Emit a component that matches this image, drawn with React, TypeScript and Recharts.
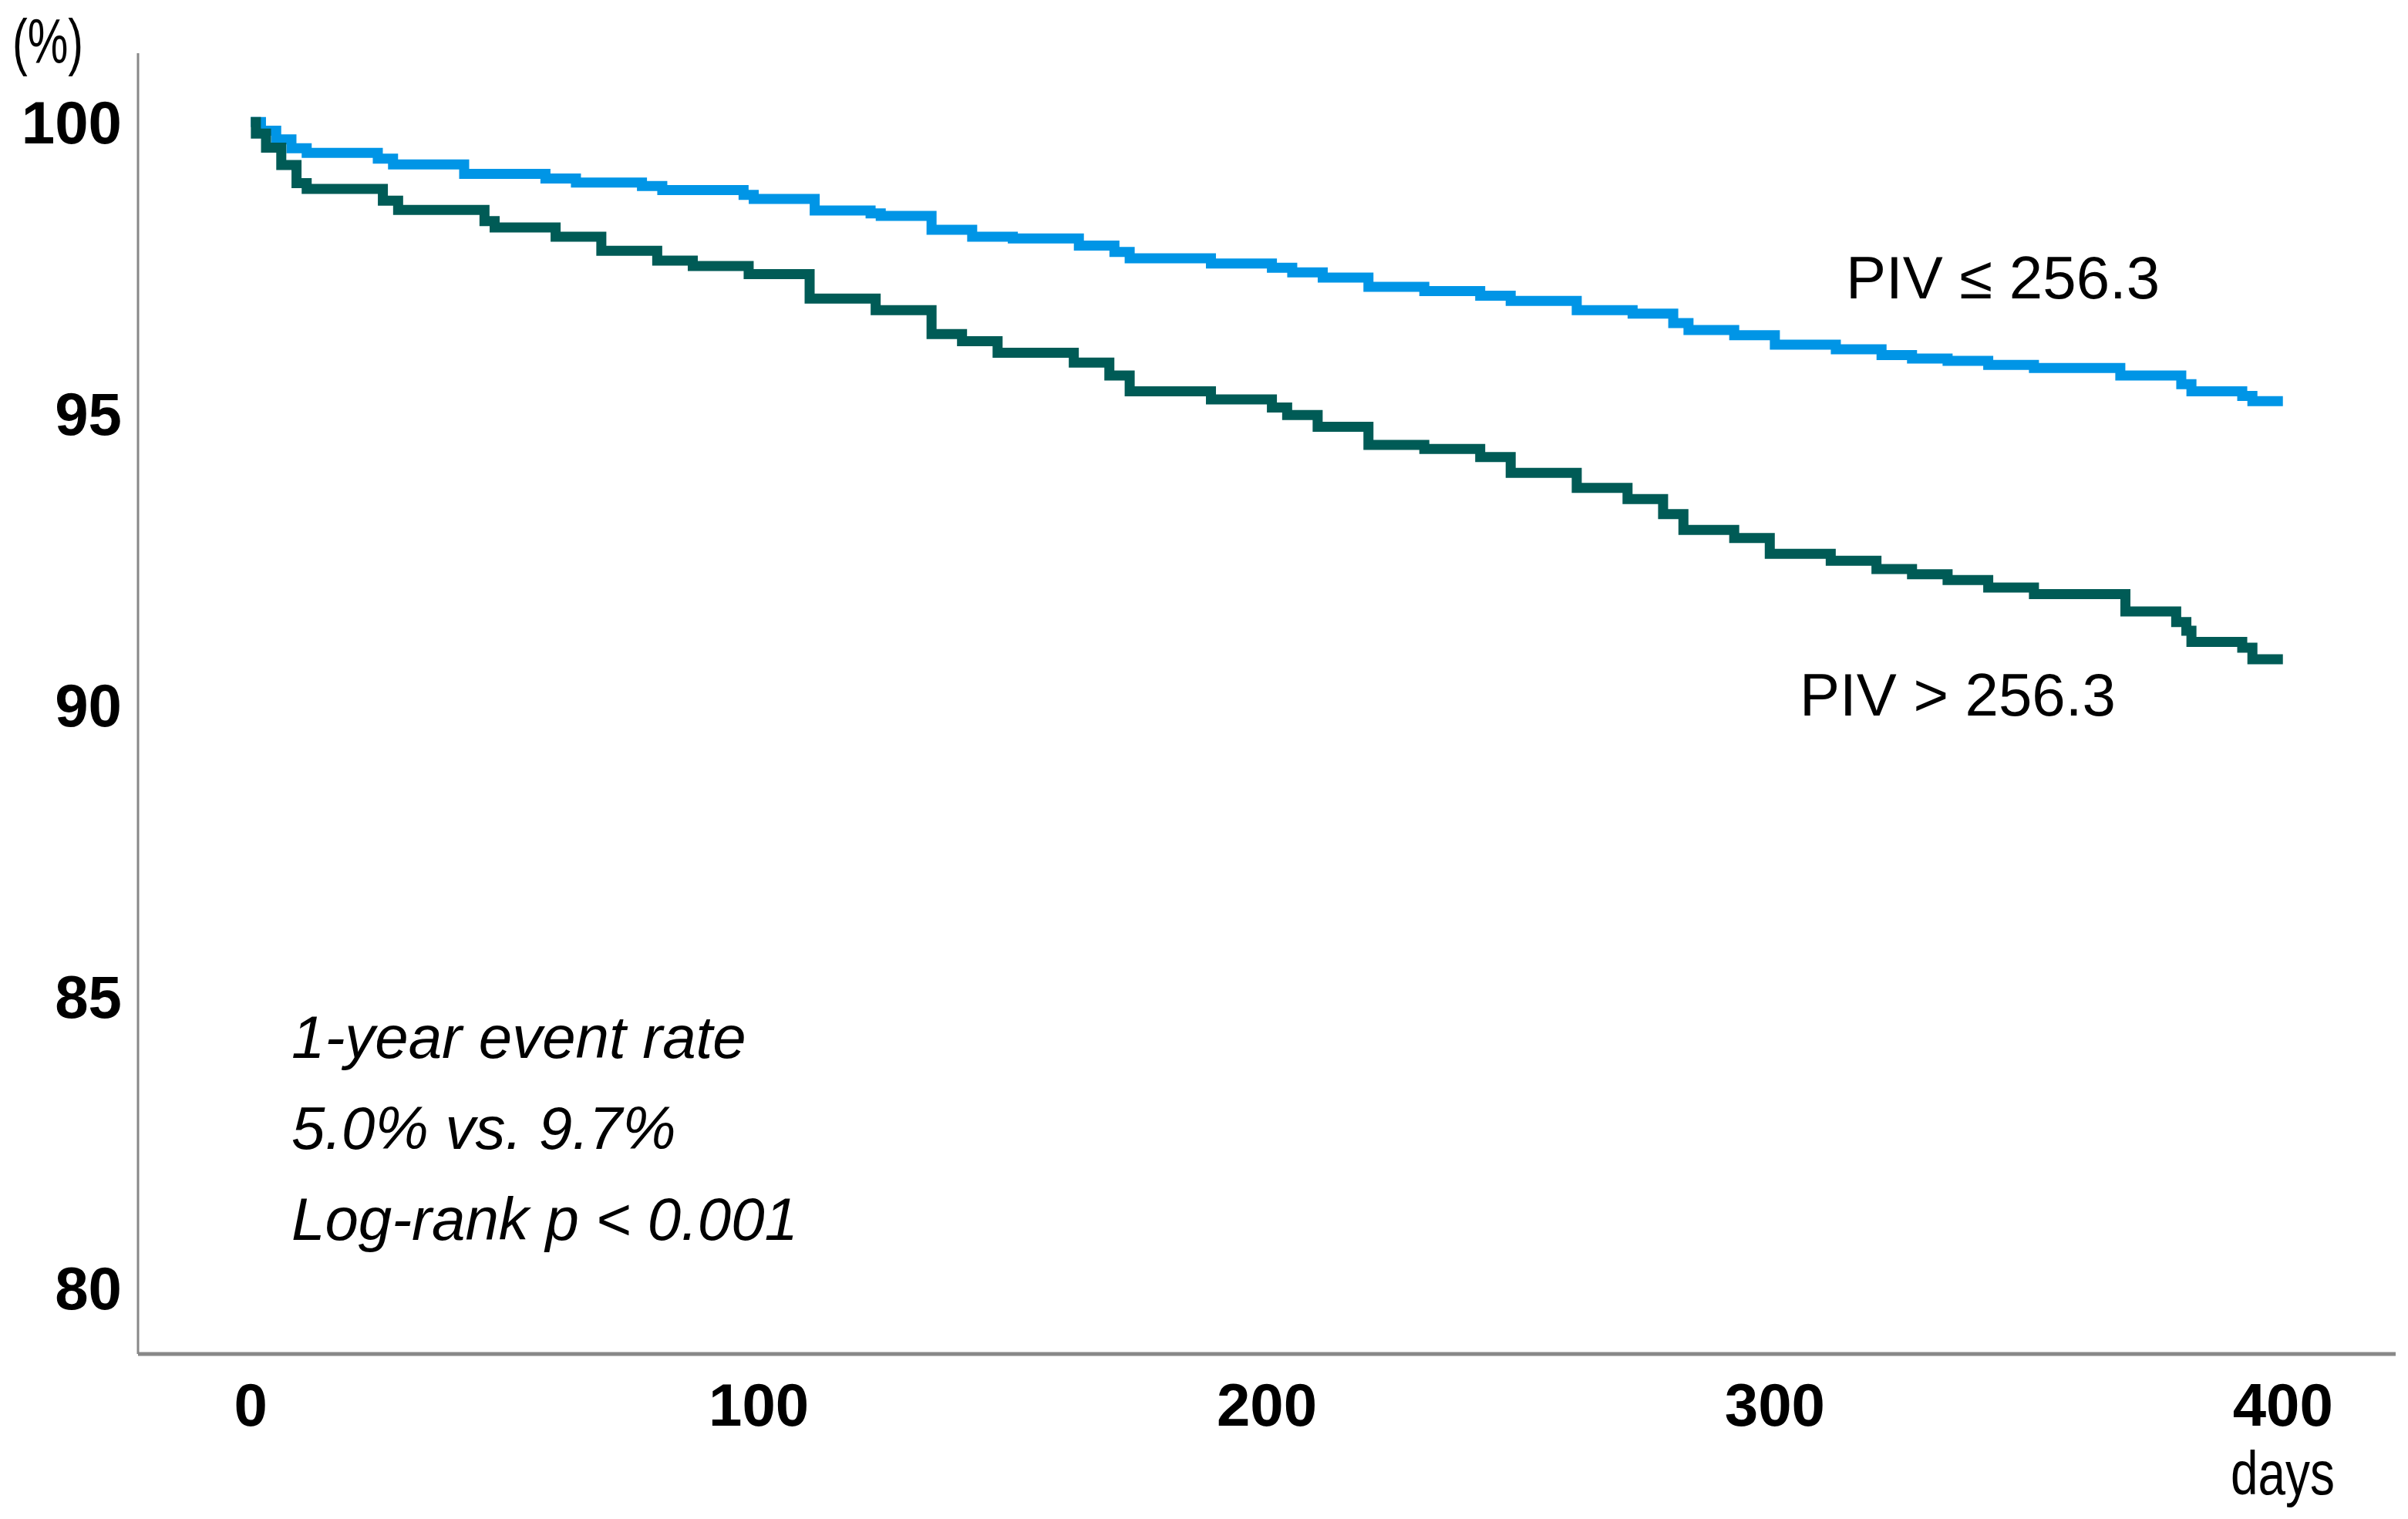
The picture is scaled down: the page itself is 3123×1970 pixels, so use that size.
import React from "react";
import { LineChart, Line, XAxis, YAxis } from "recharts";

// Kaplan-Meier steps (day, survival %)
const lowDays = [0, 2, 5, 8, 11, 25, 28, 42, 58, 64, 77, 81, 97, 99, 111, 122, 124, 134, 142, 150, 163, 170, 173, 189, 201, 205, 211, 220, 231, 242, 248, 261, 272, 280, 283, 292, 300, 312, 321, 327, 334, 342, 351, 368, 380, 382, 392, 394, 400];
const lowSurv = [100, 99.85, 99.7, 99.55, 99.47, 99.37, 99.27, 99.11, 99.03, 98.96, 98.9, 98.83, 98.75, 98.68, 98.48, 98.43, 98.39, 98.15, 98.03, 98.0, 97.88, 97.77, 97.66, 97.57, 97.5, 97.42, 97.33, 97.17, 97.1, 97.02, 96.93, 96.77, 96.71, 96.55, 96.43, 96.34, 96.18, 96.1, 96.0, 95.94, 95.9, 95.83, 95.78, 95.65, 95.5, 95.38, 95.3, 95.21, 95.21];

const highDays = [0, 1, 3, 6, 9, 11, 26, 29, 46, 48, 60, 69, 80, 87, 98, 110, 123, 134, 140, 147, 162, 169, 173, 189, 201, 204, 210, 220, 231, 242, 248, 261, 271, 278, 282, 292, 299, 311, 320, 327, 334, 342, 351, 369, 379, 381, 382, 392, 394, 400];
const highSurv = [100, 99.8, 99.56, 99.26, 98.95, 98.85, 98.65, 98.49, 98.3, 98.19, 98.03, 97.79, 97.62, 97.53, 97.39, 96.97, 96.77, 96.36, 96.24, 96.04, 95.87, 95.65, 95.38, 95.24, 95.1, 94.97, 94.77, 94.46, 94.39, 94.25, 93.98, 93.72, 93.53, 93.27, 93.0, 92.86, 92.59, 92.47, 92.33, 92.24, 92.14, 92.01, 91.9, 91.6, 91.42, 91.27, 91.08, 90.98, 90.78, 90.78];

const xTicks = [0, 100, 200, 300, 400];
const yTicks = [80, 85, 90, 95, 100];

const lowData = lowDays.map((d, i) => ({ day: d, surv: lowSurv[i] }));
const highData = highDays.map((d, i) => ({ day: d, surv: highSurv[i] }));

const font = "'Liberation Sans', Arial, sans-serif";
const tickStyle = { fontSize: 78, fontWeight: "bold", fill: "#000", fontFamily: font };
const txt = { fontSize: 78, fill: "#000", fontFamily: font };

export default function App() {
  return (
    <div style={{ position: "absolute", left: 0, top: 0, background: "#fff" }}>
      <LineChart
        width={3123}
        height={1970}
        margin={{ top: 69, right: 16, bottom: 0, left: 0 }}
      >
        <XAxis
          type="number"
          dataKey="day"
          domain={[-22.2, 422.2]}
          allowDataOverflow
          ticks={xTicks}
          tickLine={false}
          tickSize={0}
          tickMargin={38}
          height={214}
          axisLine={{ stroke: "#888", strokeWidth: 5 }}
          tick={tickStyle}
        />
        <YAxis
          type="number"
          domain={[78.86, 101.18]}
          allowDataOverflow
          ticks={yTicks}
          tickLine={false}
          tickSize={0}
          tickMargin={21}
          width={179}
          axisLine={{ stroke: "#888", strokeWidth: 3 }}
          tick={tickStyle}
        />
        <Line
          data={lowData}
          dataKey="surv"
          type="stepAfter"
          stroke="#0095e6"
          strokeWidth={13}
          dot={false}
          activeDot={false}
          isAnimationActive={false}
        />
        <Line
          data={highData}
          dataKey="surv"
          type="stepAfter"
          stroke="#005b56"
          strokeWidth={13}
          dot={false}
          activeDot={false}
          isAnimationActive={false}
        />
        <text x={16} y={82} textLength={92} lengthAdjust="spacingAndGlyphs" style={{ ...txt, fontSize: 82 }}>(%)</text>
        <text x={2893} y={1938} textLength={135} lengthAdjust="spacingAndGlyphs" style={{ ...txt, fontSize: 80 }}>days</text>
        <text x={2394} y={387} style={txt}>PIV ≤ 256.3</text>
        <text x={2334} y={928} style={txt}>PIV &gt; 256.3</text>
        <text x={378} y={1372} style={{ ...txt, fontStyle: "italic" }}>1-year event rate</text>
        <text x={378} y={1490} style={{ ...txt, fontStyle: "italic" }}>5.0% vs. 9.7%</text>
        <text x={378} y={1608} style={{ ...txt, fontStyle: "italic" }}>Log-rank p &lt; 0.001</text>
      </LineChart>
    </div>
  );
}
